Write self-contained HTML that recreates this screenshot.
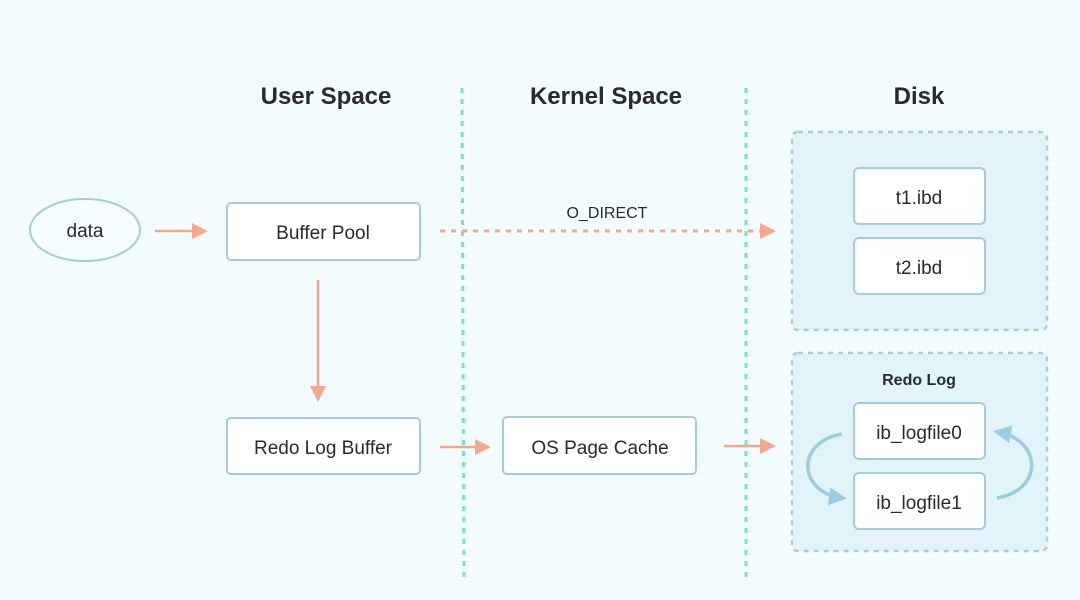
<!DOCTYPE html>
<html><head><meta charset="utf-8"><style>
html,body{margin:0;padding:0;background:#f2fbfd;}
svg{display:block;}
text{font-family:"Liberation Sans",sans-serif;fill:#2a2a2a;}
</style></head><body>
<svg width="1080" height="600" viewBox="0 0 1080 600" xmlns="http://www.w3.org/2000/svg">
<defs>
<marker id="a" markerWidth="16" markerHeight="16" refX="14" refY="8" orient="auto" markerUnits="userSpaceOnUse"><path d="M0,0 L16,8 L0,16 z" fill="#f4a88c"/></marker>
<marker id="b" markerWidth="18" markerHeight="18" refX="13" refY="9" orient="auto" markerUnits="userSpaceOnUse"><path d="M0,0 L18,9 L0,18 z" fill="#9ccbe2"/></marker>
</defs>
<rect width="1080" height="600" fill="#f2fbfd"/>
<g font-size="24" font-weight="bold" text-anchor="middle">
<text x="326" y="104">User Space</text>
<text x="606" y="104">Kernel Space</text>
<text x="919" y="104">Disk</text>
</g>
<line x1="462" y1="88" x2="464" y2="580" stroke="#6ee6c8" stroke-width="3" stroke-dasharray="5,6"/>
<line x1="746" y1="88" x2="746" y2="580" stroke="#6ee6c8" stroke-width="3" stroke-dasharray="5,6"/>
<rect x="792" y="132" width="255" height="198" rx="6" fill="#e2f4f9" stroke="#a9cfd3" stroke-width="2.5" stroke-dasharray="5,5"/>
<rect x="792" y="353" width="255" height="198" rx="6" fill="#e2f4f9" stroke="#a9cfd3" stroke-width="2.5" stroke-dasharray="5,5"/>
<ellipse cx="85" cy="230" rx="55" ry="31" fill="#f6fdff" stroke="#9fcfd8" stroke-width="2"/>
<g fill="#ffffff" stroke="#9fcfd8" stroke-width="2">
<rect x="227" y="203" width="193" height="57" rx="4"/>
<rect x="227" y="418" width="193" height="56" rx="4"/>
<rect x="503" y="417" width="193" height="57" rx="4"/>
<rect x="854" y="168" width="131" height="56" rx="5"/>
<rect x="854" y="238" width="131" height="56" rx="5"/>
<rect x="854" y="403" width="131" height="56" rx="5"/>
<rect x="854" y="473" width="131" height="56" rx="5"/>
</g>
<g font-size="19" text-anchor="middle">
<text x="85" y="237">data</text>
<text x="323" y="239">Buffer Pool</text>
<text x="323" y="454">Redo Log Buffer</text>
<text x="600" y="454">OS Page Cache</text>
<text x="919" y="204">t1.ibd</text>
<text x="919" y="274">t2.ibd</text>
<text x="919" y="439">ib_logfile0</text>
<text x="919" y="509">ib_logfile1</text>
<text x="607" y="218" font-size="16">O_DIRECT</text>
<text x="919" y="385" font-size="16" font-weight="bold">Redo Log</text>
</g>
<g stroke="#f4a88c" stroke-width="2.5" fill="none">
<line x1="155" y1="231" x2="206" y2="231" marker-end="url(#a)"/>
<line x1="440" y1="231" x2="774" y2="231" stroke-dasharray="5,6" stroke-width="3" marker-end="url(#a)"/>
<line x1="318" y1="280" x2="318" y2="400" marker-end="url(#a)"/>
<line x1="440" y1="447" x2="489" y2="447" marker-end="url(#a)"/>
<line x1="724" y1="446" x2="774" y2="446" marker-end="url(#a)"/>
</g>
<g stroke="#9ccbe2" stroke-width="3.5" fill="none">
<path d="M842,434 C795,442 798,492 842,498" marker-end="url(#b)"/>
<path d="M997,498 C1044,490 1042,440 998,432" marker-end="url(#b)"/>
</g>
</svg>
</body></html>
